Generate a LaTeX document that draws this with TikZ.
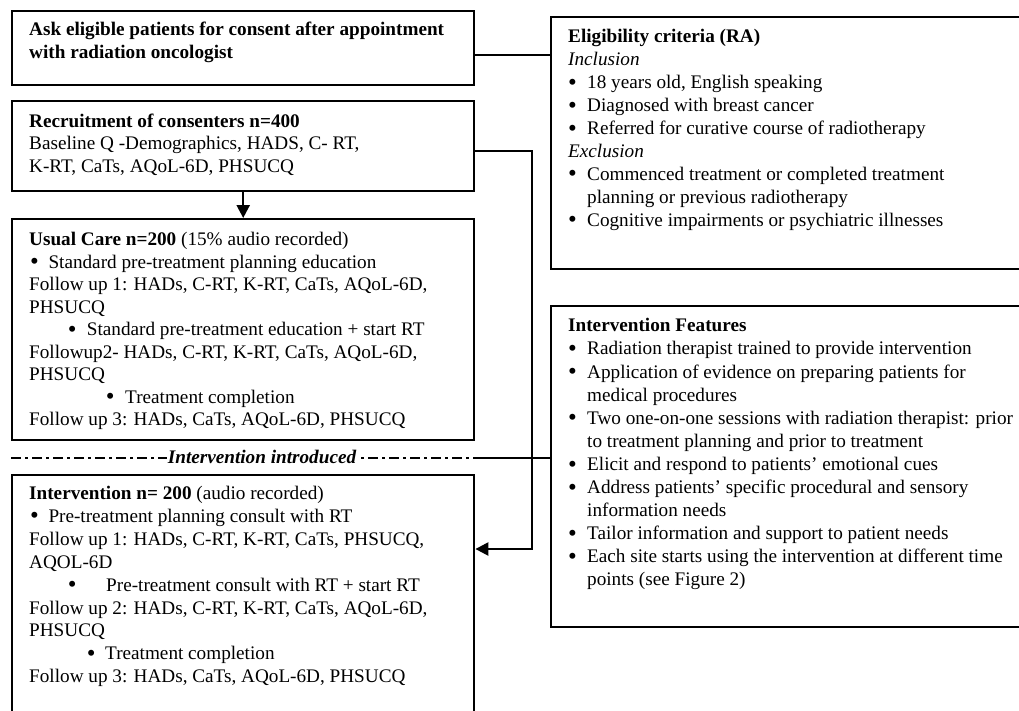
\documentclass[tikz,border=0pt]{standalone}
\usepackage{graphicx}
\usepackage{fontspec}
\setmainfont{Liberation Serif}
\usetikzlibrary{arrows.meta}
\newcommand\bigbul{\smash{\raisebox{-0.08em}{\scalebox{1.3}{\textbullet}}}}
\newcommand\bl[3]{\hspace*{#1pt}\makebox[#2pt][l]{\bigbul}#3}
\begin{document}
\begin{tikzpicture}[x=1pt,y=-1pt,
  box/.style={draw, line width=2.4pt, rectangle, inner sep=0pt, anchor=north west},
  txt/.style={anchor=north west, inner sep=0pt, align=left, font=\fontsize{19.2}{22.9}\selectfont},
  txtb/.style={txt, font=\fontsize{19.2}{22.5}\selectfont},
  txtc/.style={txt, font=\fontsize{19.2}{23.1}\selectfont},
  link/.style={line width=2.4pt},
  arr/.style={line width=2.4pt, -{Triangle[length=13pt,width=13pt]}}]
\useasboundingbox (0,0) rectangle (1019,710);
\clip (0,0) rectangle (1019,710);
% boxes
\node[box, minimum width=462pt, minimum height=74.5pt] (b1) at (11,9.5) {};
\node[box, minimum width=462pt, minimum height=90pt] (b2) at (11,100) {};
\node[box, minimum width=462pt, minimum height=221pt] (b3) at (11,218) {};
\node[box, minimum width=462pt, minimum height=280pt] (b4) at (11,474) {};
\node[box, minimum width=500pt, minimum height=252pt] (elig) at (550,16) {};
\node[box, minimum width=500pt, minimum height=321pt] (feat) at (550,305) {};
% texts
\node[txt, font=\fontsize{19.2}{22.9}\selectfont\bfseries] (t1) at (29,19) {\strut Ask eligible patients for consent after appointment\\with radiation oncologist};
\node[txtb] (t2) at (29,111.2) {\strut\textbf{Recruitment of consenters n=400}\\Baseline Q -Demographics, HADS, C- RT,\\K-RT, CaTs, AQoL-6D, PHSUCQ};
\node[txtb] (t3) at (29,229.75) {\strut\textbf{Usual Care n=200} (15\% audio recorded)\\
\bl{1}{18.3}{Standard pre-treatment planning education}\\
Follow up 1: HADs, C-RT, K-RT, CaTs, AQoL-6D,\\
PHSUCQ\\
\bl{38.6}{19.1}{Standard pre-treatment education + start RT}\\
Followup2- HADs, C-RT, K-RT, CaTs, AQoL-6D,\\
PHSUCQ\\
\bl{76.6}{19.4}{Treatment completion}\\
Follow up 3: HADs, CaTs, AQoL-6D, PHSUCQ};
\node[txt] (t4) at (29,483.3) {\strut\textbf{Intervention n= 200} (audio recorded)\\
\bl{1}{18.3}{Pre-treatment planning consult with RT}\\
Follow up 1: HADs, C-RT, K-RT, CaTs, PHSUCQ,\\
AQOL-6D\\
\bl{38.6}{38.4}{Pre-treatment consult with RT + start RT}\\
Follow up 2: HADs, C-RT, K-RT, CaTs, AQoL-6D,\\
PHSUCQ\\
\bl{57.6}{18.4}{Treatment completion}\\
Follow up 3: HADs, CaTs, AQoL-6D, PHSUCQ};
\node[txt] (t5) at (568,26.7) {\strut\textbf{Eligibility criteria (RA)}\\
\textit{Inclusion}\\
\bl{0}{19}{18 years old, English speaking}\\
\bl{0}{19}{Diagnosed with breast cancer}\\
\bl{0}{19}{Referred for curative course of radiotherapy}\\
\textit{Exclusion}\\
\bl{0}{19}{Commenced treatment or completed treatment}\\
\hspace*{19pt}planning or previous radiotherapy\\
\bl{0}{19}{Cognitive impairments or psychiatric illnesses}};
\node[txtc] (t6) at (568,315.5) {\strut\textbf{Intervention Features}\\
\bl{0}{19}{Radiation therapist trained to provide intervention}\\
\bl{0}{19}{Application of evidence on preparing patients for}\\
\hspace*{19pt}medical procedures\\
\bl{0}{19}{Two one-on-one sessions with radiation therapist: prior}\\
\hspace*{19pt}to treatment planning and prior to treatment\\
\bl{0}{19}{Elicit and respond to patients’ emotional cues}\\
\bl{0}{19}{Address patients’ specific procedural and sensory}\\
\hspace*{19pt}information needs\\
\bl{0}{19}{Tailor information and support to patient needs}\\
\bl{0}{19}{Each site starts using the intervention at different time}\\
\hspace*{19pt}points (see Figure 2)};
% connectors
\coordinate (c1) at ([yshift=-7.25pt]b1.east);
\draw[link] (c1) -- (c1 -| elig.west);
\draw[arr] (b2.south) -- (b3.north);
\coordinate (k1) at (532,151);
\coordinate (k2) at (532,549);
\draw[arr] (b2.east |- k1) -- (k1) -- (k2) -- (k2 -| b4.east);
% intervention introduced line
\coordinate (dl) at (11,458);
\coordinate (dr) at (473,458);
\draw[line width=2.2pt, dash pattern=on 10pt off 4pt on 3pt off 4pt] (dl) -- (dr);
\draw[link] (dr) -- (dr -| feat.west);
\node[fill=white, inner sep=1pt, anchor=base, font=\fontsize{19.2}{22.9}\selectfont\bfseries\itshape] (intro) at (262,463.5) {Intervention introduced};
\end{tikzpicture}
\end{document}
